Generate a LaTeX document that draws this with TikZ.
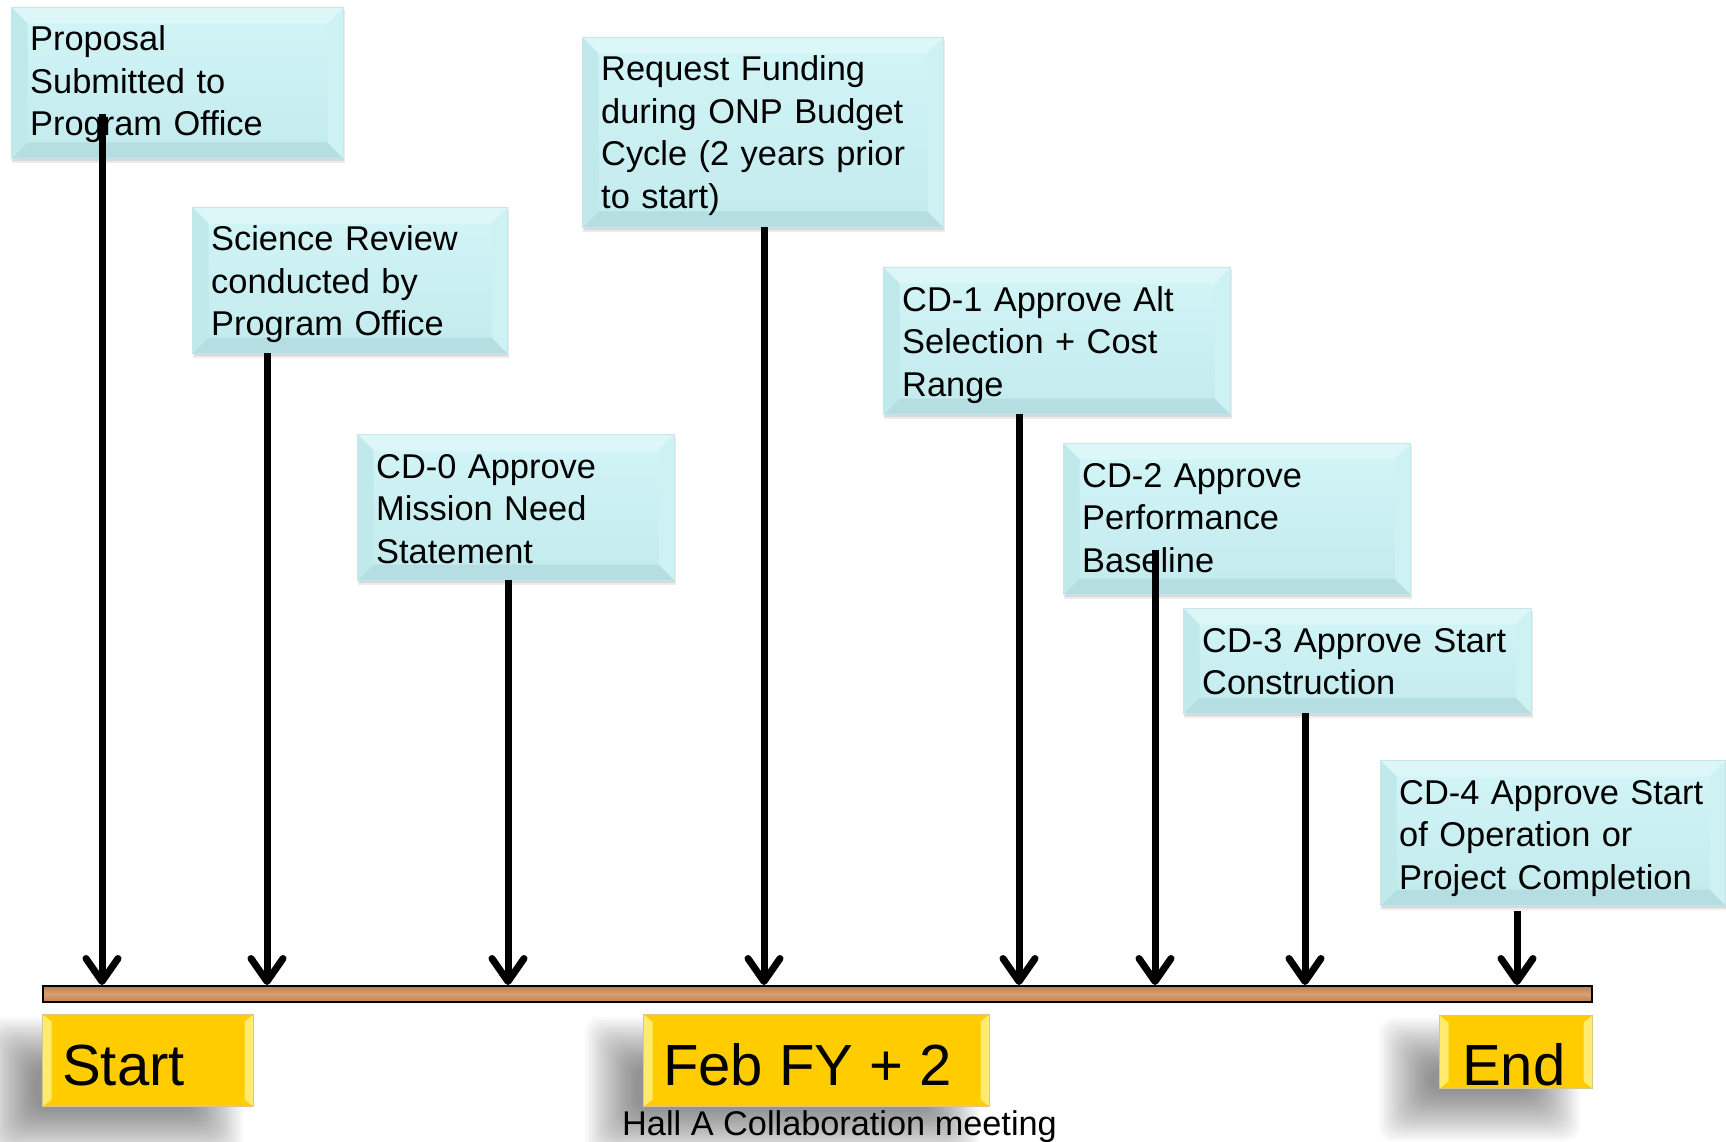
\documentclass[tikz,border=0pt]{standalone}
\usepackage{fontspec}
\setmainfont{Liberation Sans}
\usetikzlibrary{arrows.meta}
\definecolor{cfacetop}{HTML}{D3F5F7}
\definecolor{cfacebot}{HTML}{C2EAED}
\definecolor{ctop}{HTML}{DDF7F9}
\definecolor{cleft}{HTML}{C0E9EC}
\definecolor{cright}{HTML}{CEF1F3}
\definecolor{cbot}{HTML}{B4DEE2}
\definecolor{cedge}{HTML}{C6E6E9}
\definecolor{yface}{HTML}{FFCC00}
\definecolor{ybev}{HTML}{FFEB6E}
\definecolor{yedge}{HTML}{D8C78A}
\definecolor{wooddark}{HTML}{BE7E50}
\definecolor{woodlight}{HTML}{D9A070}
\newcommand\boxfont{\fontsize{34.4pt}{42.5pt}\selectfont}
\newcommand\bigfont{\fontsize{58pt}{60pt}\selectfont}
\newcommand\cdbox[6]{%
  \fill[black,opacity=.08] (#2+1,#3+3) rectangle (#4+2,#5+5);
  \fill[black,opacity=.08] (#2+2,#3+4) rectangle (#4+1,#5+3);
  \node[tbox, minimum width=#4-#2, minimum height=#5-#3] (#1) at (#2,#3) {};
  \node[ttext] (#1-t) at (#2+19,#3+44) {#6};
}
\newcommand\yshadow[4]{%
  \foreach \k in {0,...,20}{%
    \pgfmathsetmacro\d{2.5*\k-25}%
    \fill[black,opacity=.022,rounded corners=14pt] ({#1+\d},{#2+\d}) rectangle ({#3-\d},{#4-\d});
  }%
}
\begin{document}
\begin{tikzpicture}[x=1pt,y=-1pt,
  tbox/.style={draw=cedge, line width=1pt, top color=cfacetop, bottom color=cfacebot, inner sep=0pt, anchor=north west,
    path picture={
      \fill[ctop] (path picture bounding box.north west) -- (path picture bounding box.north east)
        -- ([shift={(-16,16)}]path picture bounding box.north east) -- ([shift={(16,16)}]path picture bounding box.north west) -- cycle;
      \fill[cbot] (path picture bounding box.south west) -- (path picture bounding box.south east)
        -- ([shift={(-16,-16)}]path picture bounding box.south east) -- ([shift={(16,-16)}]path picture bounding box.south west) -- cycle;
      \fill[cleft] (path picture bounding box.north west) -- ([shift={(16,16)}]path picture bounding box.north west)
        -- ([shift={(16,-16)}]path picture bounding box.south west) -- (path picture bounding box.south west) -- cycle;
      \fill[cright] (path picture bounding box.north east) -- ([shift={(-16,16)}]path picture bounding box.north east)
        -- ([shift={(-16,-16)}]path picture bounding box.south east) -- (path picture bounding box.south east) -- cycle;
    }},
  ttext/.style={anchor=base west, align=left, inner sep=0pt, text width=420pt, font=\boxfont},
  ybox/.style={draw=yedge, line width=1pt, fill=yface, inner sep=0pt, anchor=north west,
    path picture={
      \fill[ybev] (path picture bounding box.north west) -- ([shift={(9,7)}]path picture bounding box.north west)
        -- ([shift={(9,-7)}]path picture bounding box.south west) -- (path picture bounding box.south west) -- cycle;
      \fill[ybev] (path picture bounding box.north east) -- ([shift={(-9,7)}]path picture bounding box.north east)
        -- ([shift={(-9,-7)}]path picture bounding box.south east) -- (path picture bounding box.south east) -- cycle;
    }},
  btext/.style={anchor=base west, inner sep=0pt, font=\bigfont},
  bar/.style={draw=black, line width=2pt, top color=wooddark, bottom color=wooddark, middle color=woodlight, inner sep=0pt, anchor=north west},
  arr/.style={line width=7pt, -{Straight Barb[length=23pt, width=32pt, round]}}
]
\useasboundingbox (0,0) rectangle (1726,1142);
\fill[white] (0,0) rectangle (1726,1142);

% milestone boxes
\cdbox{prop}{11}{7}{343}{158}{Proposal\\Submitted to\\Program Office}
\cdbox{sci}{192}{207}{507}{353}{Science Review\\conducted by\\Program Office}
\cdbox{cdz}{357}{434}{674}{580}{CD-0 Approve\\Mission Need\\Statement}
\cdbox{req}{582}{37}{943}{227}{Request Funding\\during ONP Budget\\Cycle (2 years prior\\to start)}
\cdbox{cdo}{883}{267}{1230}{414}{CD-1 Approve Alt\\Selection + Cost\\Range}
\cdbox{cdt}{1063}{443}{1410}{594}{CD-2 Approve\\Performance\\Baseline}
\cdbox{cdh}{1183}{608}{1531}{713}{CD-3 Approve Start\\Construction}
\cdbox{cdf}{1380}{760}{1725}{905}{CD-4 Approve Start\\of Operation or\\Project Completion}

% timeline bar
\node[bar, minimum width=1549, minimum height=16] (bar) at (42,985) {};

% arrows
\coordinate (a1) at (102,114);
\coordinate (a2) at (267,353);
\coordinate (a3) at (508,580);
\coordinate (a4) at (764,227);
\coordinate (a5) at (1019,414);
\coordinate (a6) at (1155,550);
\coordinate (a7) at (1305,713);
\coordinate (a8) at (1517,911);
\foreach \a in {a1,a2,a3,a4,a5,a6,a7,a8}{
  \draw[arr] (\a) -- (\a |- bar.north);
}

% yellow labels
\yshadow{9}{1042}{218}{1134}
\yshadow{610}{1042}{954}{1134}
\yshadow{1404}{1043}{1555}{1116}
\node[ybox, minimum width=211, minimum height=92] (start) at (42,1014) {};
\node[btext] (start-t) at (62,1085) {Start};
\node[ybox, minimum width=346, minimum height=92] (feb) at (643,1014) {};
\node[btext] (feb-t) at (663,1085) {Feb FY + 2};
\node[ybox, minimum width=153, minimum height=73] (end) at (1439,1015) {};
\node[btext] (end-t) at (1462,1085) {End};

\node[anchor=base west, inner sep=0pt, font=\fontsize{34.3pt}{40pt}\selectfont] (hall) at (622,1135) {Hall A Collaboration meeting};
\end{tikzpicture}
\end{document}
